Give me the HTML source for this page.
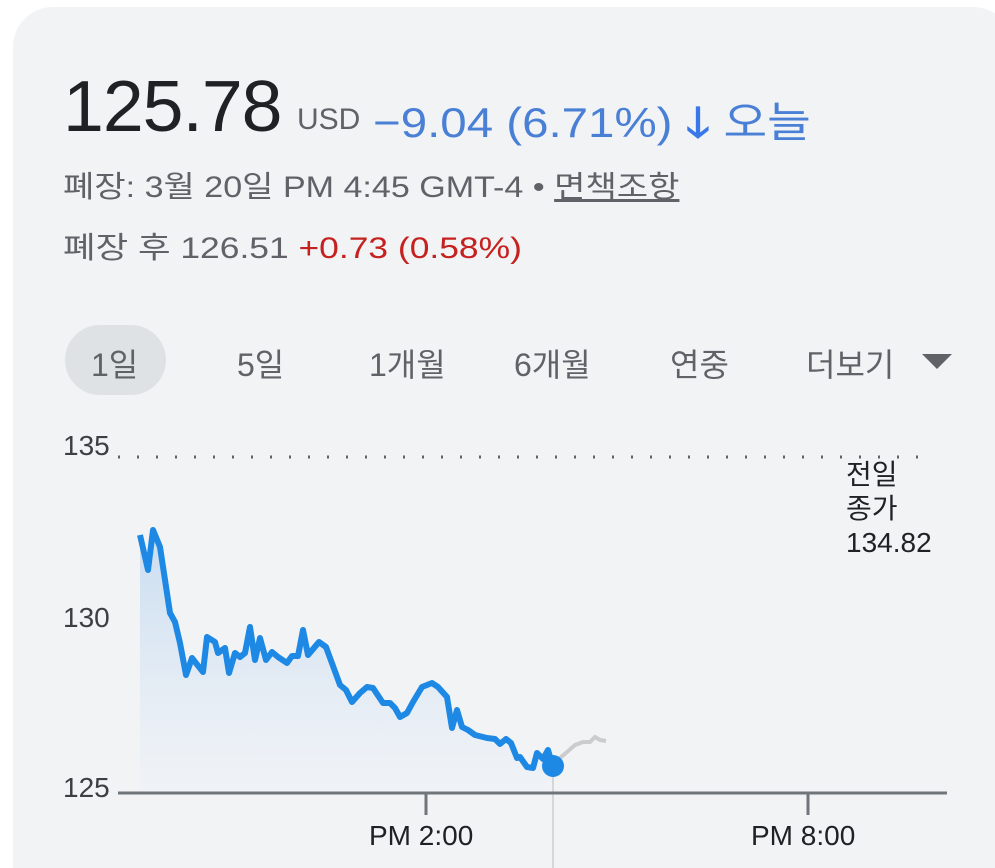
<!DOCTYPE html>
<html style="overflow:hidden;height:868px"><head><meta charset="utf-8"><style>
body{margin:0;width:995px;height:868px;background:#fff;overflow:hidden;font-family:"Liberation Sans","Noto Sans CJK KR",sans-serif;position:relative}
.card{position:absolute;left:13px;top:7px;width:1000px;height:861px;background:#f1f3f5;border-radius:40px 40px 0 0}
.t{position:absolute;white-space:nowrap;transform-origin:0 0}
</style></head><body>
<div class="card"></div>
<div class="t" style="left:63px;top:66px;font-size:72px;color:#202124;letter-spacing:-1px;transform:scaleX(1.02)">125.78</div>
<div class="t" style="left:297px;top:103px;font-size:30px;color:#5f6368">USD</div>
<div class="t" style="left:373px;top:89px;font-size:42px;color:#4a7fd6;transform:scaleX(1.13)">−9.04 (6.71%) <span style="color:#3b78e7;font-weight:bold">🡓</span> 오늘</div>
<div class="t" style="left:63px;top:162px;font-size:30px;color:#5f6368;transform:scaleX(1.135)">폐장: 3월 20일 PM 4:45 GMT-4 • <span style="text-decoration:underline">면책조항</span></div>
<div class="t" style="left:63px;top:223px;font-size:30px;color:#5f6368;transform:scaleX(1.18)">폐장 후 126.51 <span style="color:#c5221f">+0.73 (0.58%)</span></div>
<div style="position:absolute;left:65px;top:325px;width:101px;height:70px;border-radius:35px;background:#dfe2e5"></div>
<div class="t" style="left:91px;top:340px;font-size:32px;color:#5f6368">1일</div>
<div class="t" style="left:237px;top:340px;font-size:32px;color:#5f6368">5일</div>
<div class="t" style="left:369px;top:340px;font-size:32px;color:#5f6368">1개월</div>
<div class="t" style="left:514px;top:340px;font-size:32px;color:#5f6368">6개월</div>
<div class="t" style="left:670px;top:340px;font-size:32px;color:#5f6368">연중</div>
<div class="t" style="left:806px;top:340px;font-size:32px;color:#5f6368">더보기</div>
<div style="position:absolute;left:922px;top:354px;border-left:15px solid transparent;border-right:15px solid transparent;border-top:15px solid #5f6368"></div>
<div class="t" style="left:63px;top:430px;font-size:28px;color:#3c4043">135</div>
<div class="t" style="left:63px;top:602px;font-size:28px;color:#3c4043">130</div>
<div class="t" style="left:63px;top:772px;font-size:28px;color:#3c4043">125</div>
<div class="t" style="left:846px;top:458px;font-size:28px;color:#202124;line-height:34px">전일<br>종가<br>134.82</div>
<div class="t" style="left:369px;top:820px;font-size:28px;color:#202124">PM 2:00</div>
<div class="t" style="left:751px;top:820px;font-size:28px;color:#202124">PM 8:00</div>
<svg width="995" height="868" style="position:absolute;left:0;top:0">
<defs><linearGradient id="g" x1="0" y1="0" x2="0" y2="1"><stop offset="0" stop-color="#c8dcf0"/><stop offset="1" stop-color="#eef2f7" stop-opacity="0.5"/></linearGradient></defs>
<line x1="118" y1="457" x2="935" y2="457" stroke="#5f6368" stroke-width="3" stroke-dasharray="2 17"/>
<polygon fill="url(#g)" points="140,535 148,570 153,530 160,547 170,613 175,622 180,643 186,675 192,658 203,672 207,637 215,642 218,653 225,648 229,673 235,653 240,657 245,653 250,627 255,660 260,638 266,660 272,652 278,657 287,663 292,656 298,656 303,630 308,655 319,642 326,647 340,685 346,690 352,702 360,693 367,687 373,688 383,703 390,703 395,708 400,717 407,713 413,702 422,687 432,683 438,687 447,697 452,728 457,710 462,727 468,730 475,735 487,738 495,739 500,744 506,739 511,743 517,758 520,757 527,767 533,768 537,753 543,759 548,750 553,767 553,793 140,793"/>
<polyline fill="none" stroke="#ccc" stroke-width="4" points="553,767 560,758 567,752 575,745 583,742 590,742 595,737 600,740 606,741"/>
<polyline fill="none" stroke="#1e88e5" stroke-width="6" stroke-linejoin="round" points="140,535 148,570 153,530 160,547 170,613 175,622 180,643 186,675 192,658 203,672 207,637 215,642 218,653 225,648 229,673 235,653 240,657 245,653 250,627 255,660 260,638 266,660 272,652 278,657 287,663 292,656 298,656 303,630 308,655 319,642 326,647 340,685 346,690 352,702 360,693 367,687 373,688 383,703 390,703 395,708 400,717 407,713 413,702 422,687 432,683 438,687 447,697 452,728 457,710 462,727 468,730 475,735 487,738 495,739 500,744 506,739 511,743 517,758 520,757 527,767 533,768 537,753 543,759 548,750 553,767"/>
<line x1="553" y1="767" x2="553" y2="868" stroke="#bbb" stroke-width="1"/>
<circle cx="553" cy="766" r="11" fill="#1e88e5"/>
<line x1="118" y1="793" x2="947" y2="793" stroke="#70757a" stroke-width="3"/>
<line x1="426" y1="793" x2="426" y2="815" stroke="#70757a" stroke-width="3"/>
<line x1="808" y1="793" x2="808" y2="815" stroke="#70757a" stroke-width="3"/>
</svg>
</body></html>
